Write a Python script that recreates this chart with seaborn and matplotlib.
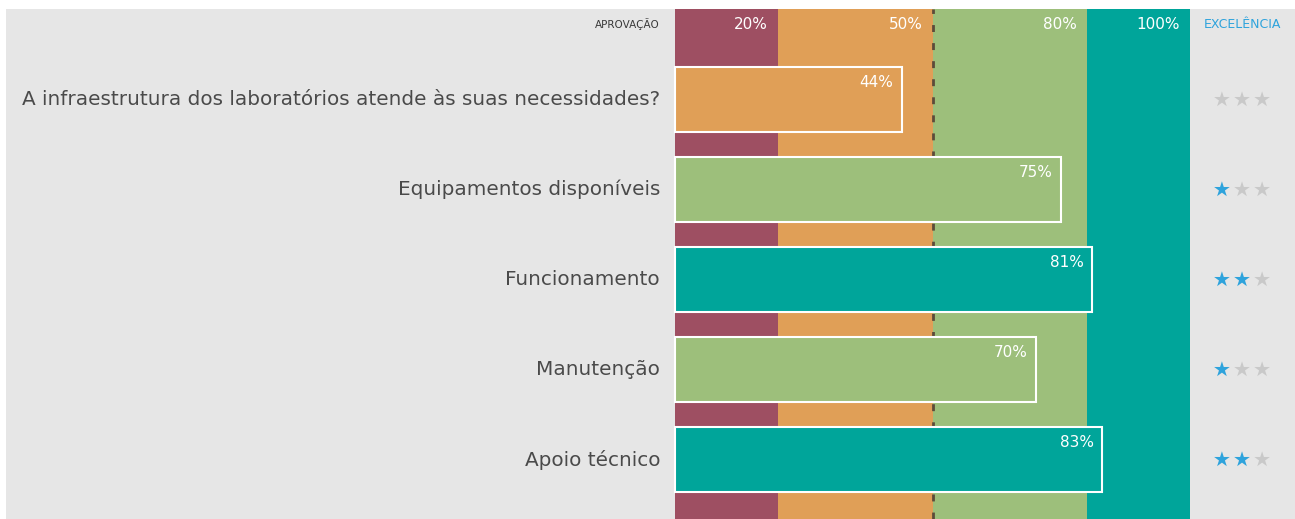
import matplotlib
matplotlib.use("Agg")
import matplotlib.pyplot as plt
import seaborn as sns
import pandas as pd

# chart values
questions = [
    "A infraestrutura dos laboratórios atende às suas necessidades?",
    "Equipamentos disponíveis",
    "Funcionamento",
    "Manutenção",
    "Apoio técnico",
]
approval = [44, 75, 81, 70, 83]
stars = [0, 1, 2, 1, 2]
band_limits = [20, 50, 80, 100]
band_labels = ["20%", "50%", "80%", "100%"]

band_colors = ["#9e4f62", "#e09f57", "#9dbf7b", "#00a59a"]
bg = "#e6e6e6"
text_col = "#4a4a4a"
star_blue = "#2ea3dc"
star_gray = "#c9c9c9"


def band_color(v):
    for lim, c in zip(band_limits, band_colors):
        if v <= lim:
            return c
    return band_colors[-1]


bar_colors = [band_color(v) for v in approval]

sns.set_style("white")
plt.rcParams["font.family"] = ["DejaVu Sans"]

fig = plt.figure(figsize=(12.95, 5.19), dpi=100, facecolor="white")
ax = fig.add_axes([6 / 1295, 0, 1289 / 1295, 510 / 519])
ax.set_facecolor(bg)

# colour bands behind bars
lo = 0
for lim, c in zip(band_limits, band_colors):
    ax.axvspan(lo, lim, color=c, zorder=0, lw=0)
    lo = lim
ax.axvline(50, color="#5c4b3a", lw=2, linestyle=(0, (2.5, 4)), zorder=0.5)

df = pd.DataFrame({"q": questions, "v": approval})
sns.barplot(data=df, x="v", y="q", hue="q", palette=bar_colors, orient="h",
            width=0.722, edgecolor="white", linewidth=1.5, legend=False,
            saturation=1, ax=ax, zorder=2)

px = 100 / 515.0
ax.set_xlim((6 - 675) * px, (1295 - 675) * px)
ax.set_ylim(4.661, -1.006)
ax.set_xticks([])
ax.set_yticks([])
ax.set_xlabel("")
ax.set_ylabel("")
for sp in ax.spines.values():
    sp.set_visible(False)

# header
for lim, lab in zip(band_limits, band_labels):
    ax.text(lim - 1.9, -0.839, lab, color="white", fontsize=11,
            ha="right", va="center", zorder=3)
ax.text(-3.0, -0.839, "APROVAÇÃO", color="#3a3a3a", fontsize=7.5,
        ha="right", va="center")
ax.text(110.1, -0.839, "EXCELÊNCIA", color=star_blue, fontsize=9,
        ha="center", va="center")

# question labels, bar values and stars
star_x = [106.2, 110.1, 114.0]
for i, (q, v, s) in enumerate(zip(questions, approval, stars)):
    ax.text(-2.9, i, q, color=text_col, fontsize=14.4, ha="right", va="center")
    ax.text(v - 1.6, i - 0.19, f"{v}%", color="white", fontsize=11,
            ha="right", va="center", zorder=3)
    cols = [star_blue if k < s else star_gray for k in range(3)]
    ax.scatter(star_x, [i] * 3, marker="*", s=140, c=cols, lw=0, zorder=3)

fig.savefig("out.png", dpi=100, facecolor="white")
